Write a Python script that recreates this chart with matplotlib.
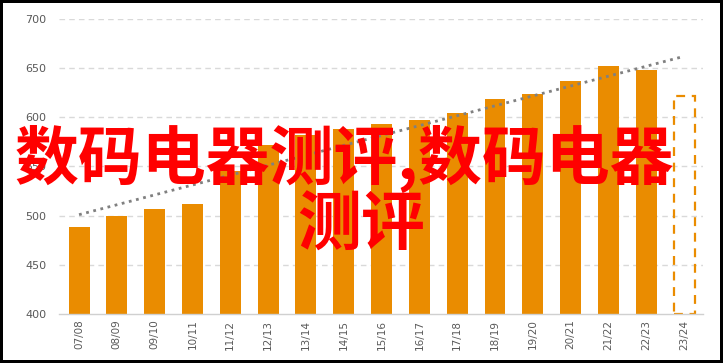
import numpy as np
import matplotlib
matplotlib.use("Agg")
import matplotlib.pyplot as plt

# 数据
seasons = ["07/08", "08/09", "09/10", "10/11", "11/12", "12/13", "13/14", "14/15",
           "15/16", "16/17", "17/18", "18/19", "19/20", "20/21", "21/22", "22/23",
           "23/24"]
values = [488.5, 500, 507, 512, 545, 572, 582, 588, 593, 597, 604, 619, 624,
          637, 652, 648, 622]
forecast = [False] * 16 + [True]
trend_x = [0, 16]
trend_y = [501, 662]
y_ticks = [400, 450, 500, 550, 600, 650, 700]
overlay_line1 = "数码电器测评,数码电器"
overlay_line2 = "测评"

orange = "#ea8c00"
gray_txt = "#595959"

fig = plt.figure(figsize=(7.23, 3.63), dpi=100)
fig.patch.set_facecolor("white")
fig.patch.set_edgecolor("black")
fig.patch.set_linewidth(3)

ax = fig.add_axes([0.0816, 0.135, 0.8907, 0.8127])
x = np.arange(len(seasons))

# 网格线
for yv in y_ticks[1:]:
    ax.axhline(yv, color="#d9d9d9", linewidth=1, linestyle=(0, (4, 3)), zorder=0)

# 柱状图
for xi, v, fc in zip(x, values, forecast):
    if fc:
        ax.bar(xi, v - 400, bottom=400, width=0.555, facecolor="none",
               edgecolor=orange, linewidth=1.6, linestyle=(0, (4, 3)), zorder=2)
    else:
        ax.bar(xi, v - 400, bottom=400, width=0.555, color=orange, zorder=2)

# 趋势线
ax.plot(trend_x, trend_y, color="#808080", linewidth=2, linestyle=":", zorder=3)

ax.set_xlim(-0.53, 16.5)
ax.set_ylim(400, 700)
ax.set_yticks(y_ticks)
ax.set_xticks(x)
ax.set_xticklabels(seasons, rotation=90)
ax.tick_params(axis="y", length=0, pad=9, labelsize=8, labelcolor=gray_txt)
ax.tick_params(axis="x", length=0, pad=4, labelsize=7.5, labelcolor=gray_txt)

for s in ["top", "right", "left"]:
    ax.spines[s].set_visible(False)
ax.spines["bottom"].set_color("#d0d0d0")
ax.spines["bottom"].set_linewidth(1)

# 叠加文字
fig.text(15 / 723, 1 - 159 / 363, overlay_line1, color="#ff0000", fontsize=46,
         fontweight="bold", family=["Noto Sans CJK SC", "DejaVu Sans"],
         ha="left", va="center", zorder=10)
fig.text(361 / 723, 1 - 226 / 363, overlay_line2, color="#ff0000", fontsize=46,
         fontweight="bold", family=["Noto Sans CJK SC", "DejaVu Sans"],
         ha="center", va="center", zorder=10)

fig.savefig("out.png", dpi=100)
